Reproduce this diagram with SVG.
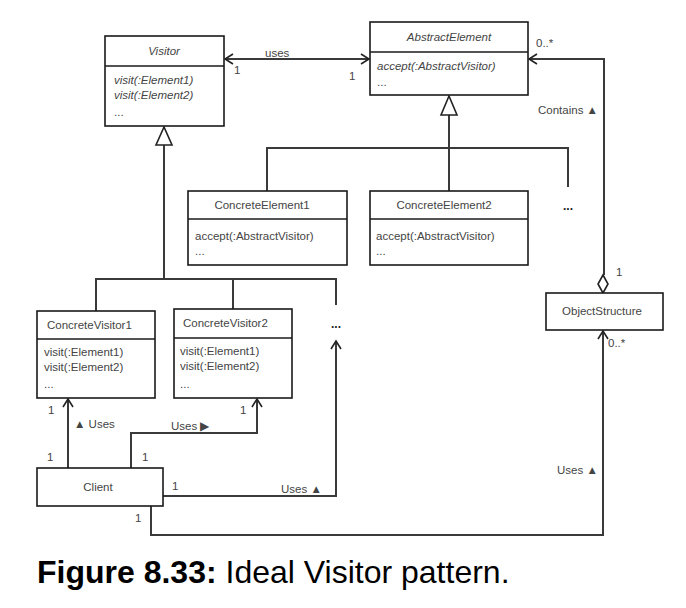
<svg xmlns="http://www.w3.org/2000/svg" width="686" height="608" viewBox="0 0 686 608">
<style>
.box{fill:#fff;stroke:#1a1a1a;stroke-width:1.6}
.div{stroke:#1a1a1a;stroke-width:1.4}
.ln{fill:none;stroke:#3a3a3a;stroke-width:2}
.ah{fill:none;stroke:#222;stroke-width:1.6}
.tri{fill:#fff;stroke:#222;stroke-width:1.6}
text{font-family:"Liberation Sans",Arial,sans-serif;font-size:11.5px;fill:#444}
.it{font-style:italic}
.c{text-anchor:middle}
.dots{font-size:12px;font-weight:bold;fill:#222}
.cap{font-size:32px;fill:#000}
</style>
<rect width="686" height="608" fill="#fff"/>
<g id="connectors">
  <line class="ln" x1="225" y1="59" x2="369" y2="59"/>
  <polyline class="ah" points="233,54 225,59 233,64"/>
  <polyline class="ah" points="361,54 369,59 361,64"/>
  <polyline class="ln" points="529,59 604,59 604,275"/>
  <polyline class="ah" points="537,54 529,59 537,64"/>
  <polygon class="tri" points="603,275 608,284 603,293 598,284"/>
  <line class="ln" x1="449" y1="115" x2="449" y2="191"/>
  <polyline class="ln" points="267,191 267,148 568,148 568,187"/>
  <polygon class="tri" points="449,96 441,115 457,115"/>
  <line class="ln" x1="164" y1="145" x2="164" y2="279"/>
  <polyline class="ln" points="96,311 96,279 336,279 336,305"/>
  <line class="ln" x1="233" y1="279" x2="233" y2="309"/>
  <polygon class="tri" points="164,127 156,145 172,145"/>
  <line class="ln" x1="68" y1="468" x2="68" y2="399"/>
  <polyline class="ah" points="63,407 68,399 73,407"/>
  <polyline class="ln" points="131,468 131,433 257,433 257,399"/>
  <polyline class="ah" points="252,407 257,399 262,407"/>
  <polyline class="ln" points="163,496 336,496 336,341"/>
  <polyline class="ah" points="331,349 336,341 341,349"/>
  <polyline class="ln" points="151,506 151,535 603,535 603,331"/>
  <polyline class="ah" points="598,339 603,331 608,339"/>
</g>
<g id="labels">
  <text x="265" y="57">uses</text>
  <text x="234" y="74">1</text>
  <text x="349" y="80">1</text>
  <text x="536" y="47">0..*</text>
  <text x="538" y="114">Contains ▲</text>
  <text x="616" y="276">1</text>
  <text x="608" y="347">0..*</text>
  <text x="557" y="474">Uses ▲</text>
  <text x="48" y="414">1</text>
  <text x="74" y="428">▲ Uses</text>
  <text x="47" y="461">1</text>
  <text x="142" y="461">1</text>
  <text x="171" y="430">Uses ▶</text>
  <text x="240" y="414">1</text>
  <text x="172" y="490">1</text>
  <text x="281" y="493">Uses ▲</text>
  <text x="135" y="522">1</text>
  <text class="dots c" x="568" y="210">...</text>
  <text class="dots c" x="336" y="328">...</text>
</g>
<g id="Visitor">
  <rect class="box" x="105" y="36" width="119" height="90"/>
  <line class="div" x1="105" y1="66" x2="224" y2="66"/>
  <text class="it c" x="164" y="55">Visitor</text>
  <text class="it" x="114" y="84">visit(:Element1)</text>
  <text class="it" x="114" y="99">visit(:Element2)</text>
  <text x="114" y="116">...</text>
</g>
<g id="AbstractElement">
  <rect class="box" x="370" y="22" width="158" height="73"/>
  <line class="div" x1="370" y1="52" x2="528" y2="52"/>
  <text class="it c" x="449" y="41">AbstractElement</text>
  <text class="it" x="377" y="70">accept(:AbstractVisitor)</text>
  <text x="377" y="86">...</text>
</g>
<g id="ConcreteElement1">
  <rect class="box" x="188" y="191" width="159" height="74"/>
  <line class="div" x1="188" y1="219" x2="347" y2="219"/>
  <text class="c" x="262" y="209">ConcreteElement1</text>
  <text x="195" y="240">accept(:AbstractVisitor)</text>
  <text x="195" y="255">...</text>
</g>
<g id="ConcreteElement2">
  <rect class="box" x="370" y="191" width="158" height="74"/>
  <line class="div" x1="370" y1="219" x2="528" y2="219"/>
  <text class="c" x="444" y="209">ConcreteElement2</text>
  <text x="376" y="240">accept(:AbstractVisitor)</text>
  <text x="376" y="255">...</text>
</g>
<g id="ConcreteVisitor1">
  <rect class="box" x="37" y="311" width="118" height="87"/>
  <line class="div" x1="37" y1="339" x2="155" y2="339"/>
  <text x="47" y="329">ConcreteVisitor1</text>
  <text x="44" y="356">visit(:Element1)</text>
  <text x="44" y="371">visit(:Element2)</text>
  <text x="44" y="388">...</text>
</g>
<g id="ConcreteVisitor2">
  <rect class="box" x="174" y="309" width="118" height="89"/>
  <line class="div" x1="174" y1="338" x2="292" y2="338"/>
  <text x="183" y="327">ConcreteVisitor2</text>
  <text x="180" y="355">visit(:Element1)</text>
  <text x="180" y="370">visit(:Element2)</text>
  <text x="180" y="388">...</text>
</g>
<g id="Client">
  <rect class="box" x="37" y="468" width="126" height="38"/>
  <text class="c" x="98" y="491">Client</text>
</g>
<g id="ObjectStructure">
  <rect class="box" x="546" y="293" width="117" height="37"/>
  <text class="c" x="602" y="315">ObjectStructure</text>
</g>
<text class="cap" x="37" y="583"><tspan font-weight="bold">Figure 8.33:</tspan> Ideal Visitor pattern.</text>
</svg>
